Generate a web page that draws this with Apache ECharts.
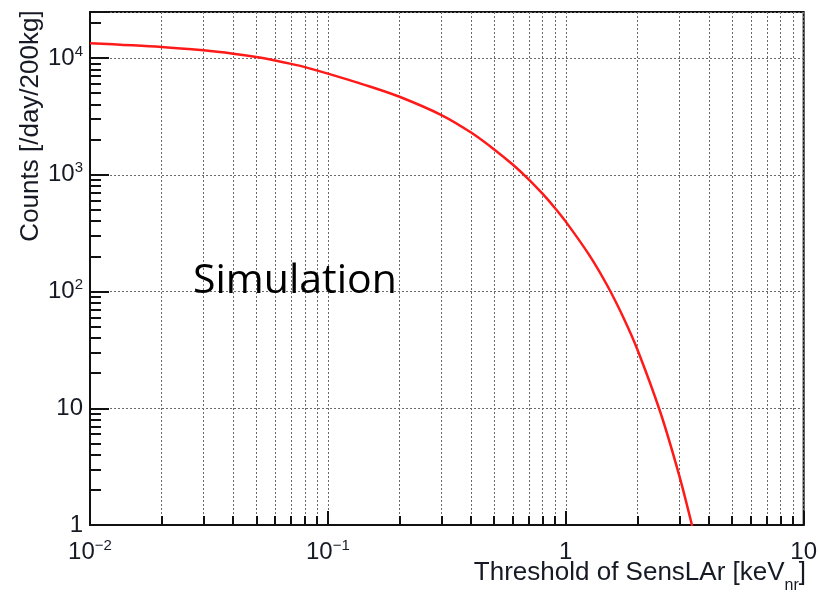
<!DOCTYPE html>
<html>
<head>
<meta charset="utf-8">
<style>
  html, body { margin: 0; padding: 0; background: #fff; }
  #chart { width: 820px; height: 596px; }
</style>
<script src="https://cdn.jsdelivr.net/npm/echarts@6/dist/echarts.min.js"></script>
</head>
<body>
<div id="chart"></div>
<script>
// Threshold of SensLAr [keV_nr]
const thresholds = [0.01, 0.02, 0.03, 0.04, 0.05, 0.06, 0.07, 0.08, 0.1, 0.15, 0.2, 0.3,
                    0.4, 0.5, 0.6, 0.7, 0.8, 0.9, 1.0, 1.25, 1.5, 1.75, 2.0, 2.5, 3.0, 3.4];
// Counts [/day/200kg]
const counts = [13400, 12450, 11640, 10890, 10190, 9510, 8910, 8360, 7350, 5710, 4660, 3250,
                2300, 1650, 1219, 910, 685, 520, 397, 208, 111, 59.4, 31.9, 9.2, 2.65, 0.98];

// Axis tick labels: [mantissa, exponent]
const xTickValues = [0.01, 0.1, 1, 10];
const xTickLabels = [['10', '\u22122'], ['10', '\u22121'], ['1', ''], ['10', '']];
const yTickValues = [1, 10, 100, 1000, 10000];
const yTickLabels = [['1', ''], ['10', ''], ['10', '2'], ['10', '3'], ['10', '4']];

const xRange = [0.01, 10];
const yRange = [1, 24800];

// minor tick positions 2..9 x 10^n inside the y range
const yMinorTicks = [];
for (let d = 1; d <= 10000; d *= 10) {
  for (let k = 2; k <= 9; k++) {
    if (k * d < yRange[1]) yMinorTicks.push(k * d);
  }
}

const FONT = 'Liberation Sans';
const INK = '#161a24';
const gridLine = { color: '#6a6a6a', width: 1, type: [2, 2] };

function powerLabel(values, labels) {
  return function (v) {
    for (let i = 0; i < values.length; i++) {
      if (Math.abs(Math.log10(v) - Math.log10(values[i])) < 1e-6) {
        const [m, e] = labels[i];
        return e ? '{b|' + m + '}{p|' + e + '}' : '{b|' + m + '}';
      }
    }
    return '';
  };
}

const richLabel = {
  b: { fontSize: 24, lineHeight: 28, fontFamily: FONT, color: INK },
  p: { fontSize: 15, lineHeight: 12, verticalAlign: 'top', fontFamily: FONT, color: INK }
};

const chart = echarts.init(document.getElementById('chart'), null, { renderer: 'canvas' });

chart.setOption({
  animation: false,
  backgroundColor: '#fff',
  grid: {
    left: 90, right: 13, top: 12, bottom: 71,
    show: true, borderColor: '#111', borderWidth: 2, backgroundColor: 'transparent'
  },
  xAxis: {
    type: 'log', logBase: 10, min: xRange[0], max: xRange[1],
    axisLine: { show: true, lineStyle: { color: '#111', width: 2 } },
    axisTick: { show: true, inside: true, length: 14, lineStyle: { color: '#111', width: 2 } },
    minorTick: { show: true, splitNumber: 9, length: 9, lineStyle: { color: '#111', width: 2 } },
    splitLine: { show: true, lineStyle: gridLine },
    minorSplitLine: { show: true, lineStyle: gridLine },
    axisLabel: {
      margin: 13, formatter: powerLabel(xTickValues, xTickLabels), rich: richLabel,
      showMinLabel: true, showMaxLabel: true, hideOverlap: false
    }
  },
  yAxis: [
    {
      type: 'log', logBase: 10, min: yRange[0], max: yRange[1],
      axisLine: { show: true, lineStyle: { color: '#111', width: 2 } },
      axisTick: { show: true, inside: true, length: 19, lineStyle: { color: '#111', width: 2 } },
      minorTick: { show: false },
      splitLine: { show: true, lineStyle: gridLine },
      axisLabel: {
        margin: 7, formatter: powerLabel(yTickValues, yTickLabels), rich: richLabel,
        showMinLabel: true, showMaxLabel: true, hideOverlap: false
      }
    },
    {
      // minor ticks only, laid over the left axis
      type: 'log', logBase: 10, min: yRange[0], max: yRange[1], position: 'left',
      axisLine: { show: false },
      axisTick: {
        show: true, inside: true, length: 11, customValues: yMinorTicks,
        lineStyle: { color: '#111', width: 2 }
      },
      minorTick: { show: false },
      splitLine: { show: false },
      axisLabel: { show: false }
    }
  ],
  series: [{
    type: 'line',
    yAxisIndex: 0,
    data: thresholds.map((x, i) => [x, counts[i]]),
    showSymbol: false,
    smooth: 0.3,
    clip: true,
    lineStyle: { color: '#ff1a1a', width: 2.5 },
    z: 5
  }],
  graphic: [
    {
      type: 'text', x: 193, y: 281, z: 10,
      style: {
        text: 'Simulation', fontSize: 41, fontFamily: 'Open Sans', fill: '#000',
        align: 'left', verticalAlign: 'middle'
      }
    },
    {
      type: 'text', x: 31, y: 126, rotation: Math.PI / 2, z: 10,
      style: {
        text: 'Counts [/day/200kg]', fontSize: 26, fontFamily: FONT, fill: INK,
        align: 'center', verticalAlign: 'middle'
      }
    },
    {
      type: 'text', x: 806, y: 560, z: 10,
      style: {
        text: '{a|Threshold of SensLAr [keV}{s|nr}{a|]}',
        align: 'right', verticalAlign: 'top',
        rich: {
          a: { fontSize: 26, lineHeight: 27, verticalAlign: 'top', fontFamily: FONT, fill: INK },
          s: { fontSize: 16, lineHeight: 14, padding: [25, 0, 0, 0], fontFamily: FONT, fill: INK }
        }
      }
    }
  ]
});
</script>
</body>
</html>
